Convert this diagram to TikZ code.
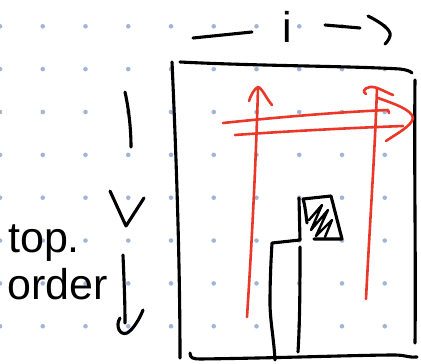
\documentclass[tikz,border=0pt]{standalone}
\usepackage{fontspec}
\setmainfont{Liberation Sans}
\definecolor{penred}{RGB}{235,55,40}
\definecolor{dotblue}{RGB}{160,182,215}
\begin{document}
\begin{tikzpicture}[x=1pt,y=-1pt,
  ink/.style={line width=3.1pt,line cap=round,line join=round,black},
  redink/.style={line width=2.6pt,line cap=round,line join=round,penred},
  hand/.style={font=\fontsize{43}{43}\selectfont,inner sep=0pt}]
\useasboundingbox[fill=white] (0,0) rectangle (421,364);
% dot grid
\foreach \i in {0,...,10}{
  \foreach \j in {0,...,7}{
    \fill[dotblue] (42.75*\i,26.3+42.85*\j) circle (2.3pt);
  }}
% frame
\draw[ink] (172,62) .. controls (176,150) and (180,260) .. (180,358);
\draw[ink] (180,62) .. controls (260,66) and (350,66) .. (400,69) .. controls (407,70) and (410,71) .. (412,73);
\draw[ink] (415,80) .. controls (414,170) and (416,260) .. (415,343);
\draw[ink] (190,353) .. controls (190,358) and (193,359) .. (200,359) .. controls (280,358) and (360,355) .. (395,355) .. controls (405,355) and (410,358) .. (417,357);
% top label
\draw[ink] (193,38) -- (252,32);
\node[hand] (ilabel) at (287,27) {i};
\draw[ink] (325,25) -- (360,28);
\draw[ink] (368,16) .. controls (380,22) and (392,30) .. (390,36) .. controls (389,40) and (386,43) .. (385,44);
% left label
\draw[ink] (125,92) .. controls (129,110) and (131,130) .. (131,147);
\draw[ink] (110,191) -- (126,226) -- (144,198);
\draw[ink] (123,255) .. controls (124,280) and (125,300) .. (125,323);
\draw[ink] (120,318) .. controls (115,326) and (120,336) .. (127,333) .. controls (133,330) and (140,318) .. (143,310);
\node[hand,anchor=base west] (top) at (8,252) {top.};
\node[hand,anchor=base west] (order) at (7,299) {order};
% red arrows
\draw[redink] (247,317) .. controls (252,240) and (256,160) .. (258,88);
\draw[redink] (249,101) .. controls (251,95) and (254,89) .. (258,87) .. controls (262,88) and (266,98) .. (272,105);
\draw[redink] (366,299) .. controls (370,220) and (375,150) .. (377,88);
\draw[redink] (393,95) .. controls (385,92) and (376,86) .. (370,87) .. controls (364,88) and (362,92) .. (366,94);
\draw[redink] (223,123) .. controls (280,117) and (340,112) .. (388,110) -- (389,113);
\draw[redink] (235,135) .. controls (290,131) and (350,128) .. (403,126);
\draw[redink] (378,98) .. controls (395,104) and (412,110) .. (413,118) .. controls (412,126) and (396,134) .. (386,141);
% black step
\draw[ink] (275,360) .. controls (274,340) and (270,320) .. (270,303) .. controls (270,280) and (271,260) .. (272,243) -- (300,240) -- (299,198);
\draw[ink] (298,352) .. controls (300,320) and (300,280) .. (300,247);
% hatched box
\draw[ink] (303,199) .. controls (305,205) and (306,215) .. (307,223);
\draw[ink] (303,199) -- (331,196) -- (342,239) -- (314,239);
\draw[ink,line width=2.4pt] (309,220) -- (322,205) -- (311,230) -- (328,210) -- (316,236) -- (332,220) -- (325,237);
\end{tikzpicture}
\end{document}
